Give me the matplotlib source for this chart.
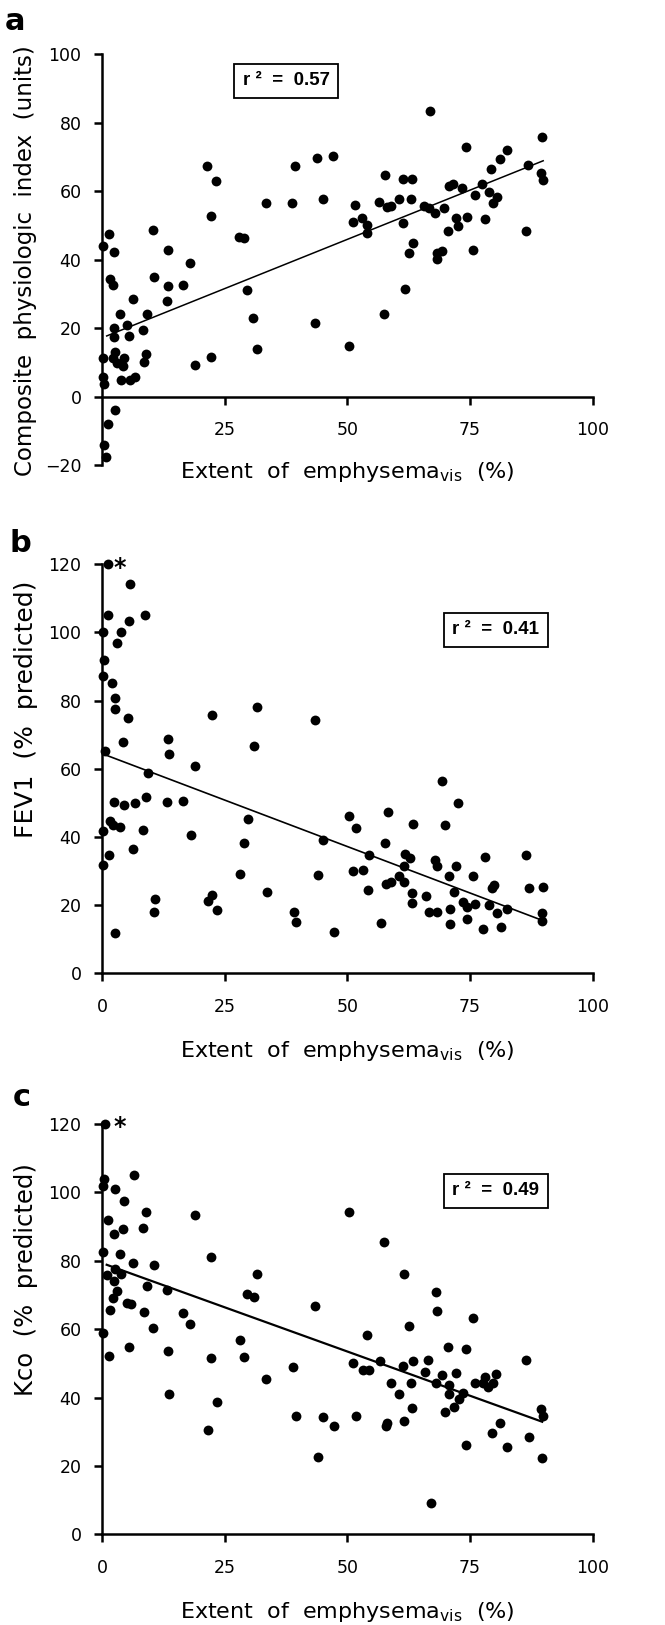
import numpy as np
import matplotlib
matplotlib.use('Agg')
import matplotlib.pyplot as plt

# data (x = extent of emphysema, %)
a_x = [0.1, 1.4, 2.4, 1.6, 2.2, 6.2, 3.6, 2.4, 2.4, 5.1,
       5.5, 8.4, 9.2, 0.1, 2.1, 2.6, 3.1, 4.5, 4.3, 0.1,
       0.4, 3.9, 5.6, 6.7, 9.0, 8.5, 2.6, 1.2, 0.3, 0.8,
       10.4, 10.5, 13.5, 13.3, 13.1, 16.5, 17.9, 18.9, 21.4, 23.2,
       22.1, 22.2, 27.9, 28.8, 29.6, 30.8, 31.6, 33.3, 38.7, 39.2,
       43.8, 47.1, 45.1, 43.3, 50.4, 51.5, 51.2, 52.9, 54.0, 54.0,
       56.5, 57.6, 58.1, 58.8, 60.4, 57.4, 61.4, 63.1, 63.0, 61.4,
       63.3, 62.5, 61.7, 66.8, 65.7, 66.6, 67.9, 69.7, 68.2, 68.2,
       69.3, 70.4, 70.6, 71.6, 72.1, 72.6, 73.4, 74.2, 74.3, 75.5,
       75.9, 77.4, 78.0, 78.8, 79.3, 79.7, 80.4, 81.1, 82.5, 86.3,
       86.9, 89.6, 89.5, 89.9]
a_y = [44.1, 47.4, 42.1, 34.5, 32.6, 28.5, 24.1, 20.0, 17.5, 20.9,
       17.7, 19.6, 24.0, 11.4, 11.2, 12.9, 9.7, 11.2, 9.0, 5.8,
       3.7, 4.9, 4.9, 5.8, 12.5, 10.1, -3.9, -8.0, -14.0, -17.5,
       48.8, 34.9, 42.8, 32.4, 28.0, 32.6, 38.9, 9.3, 67.5, 63.1,
       52.8, 11.5, 46.6, 46.2, 31.0, 22.9, 13.8, 56.6, 56.6, 67.5,
       69.6, 70.4, 57.6, 21.6, 14.8, 56.0, 50.9, 52.1, 50.1, 47.9,
       56.8, 64.8, 55.3, 55.8, 57.7, 24.1, 63.5, 63.5, 57.6, 50.8,
       44.9, 42.0, 31.5, 83.4, 55.8, 55.2, 53.7, 55.2, 42.0, 40.1,
       42.6, 48.4, 61.5, 62.1, 52.1, 49.9, 60.8, 72.8, 52.6, 42.9,
       58.8, 62.1, 51.9, 59.7, 66.5, 56.5, 58.3, 69.3, 72.1, 48.5,
       67.6, 75.7, 65.2, 63.2]

b_x = [1.2, 5.6, 1.2, 8.7, 0.2, 5.4, 3.9, 3.1, 0.3, 0.1,
       2.0, 2.6, 2.6, 5.2, 4.3, 13.3, 13.6, 0.6, 9.3, 19.0,
       22.3, 31.6, 30.9, 43.3, 2.4, 4.5, 6.6, 9.0, 13.2, 16.5,
       1.6, 2.2, 3.7, 0.1, 8.4, 1.4, 6.3, 0.1, 18.0, 10.7,
       10.6, 2.5, 29.8, 28.8, 28.1, 22.3, 21.6, 23.3, 33.5, 39.0,
       39.4, 44.0, 45.1, 47.3, 50.4, 51.7, 51.2, 53.1, 54.3, 54.2,
       56.8, 57.6, 58.3, 57.9, 58.9, 60.4, 61.7, 62.7, 61.6, 61.6,
       63.1, 63.1, 63.4, 66.0, 66.7, 68.2, 67.9, 68.3, 69.3, 69.8,
       70.6, 70.8, 70.9, 71.8, 72.1, 72.6, 73.6, 74.3, 74.3, 75.5,
       76.0, 78.0, 77.7, 78.9, 79.4, 79.8, 80.4, 81.3, 82.5, 86.4,
       87.1, 89.6, 89.7, 89.9]
b_y = [120, 114.2, 105.2, 105.2, 100.2, 103.3, 100.0, 97.0, 91.9, 87.2,
       85.2, 80.7, 77.6, 75.0, 67.9, 68.6, 64.4, 65.2, 58.7, 60.9,
       75.8, 78.1, 66.6, 74.3, 50.2, 49.3, 50.0, 51.8, 50.3, 50.5,
       44.7, 43.5, 42.8, 41.7, 42.1, 34.8, 36.4, 31.8, 40.5, 21.7,
       18.1, 11.9, 45.1, 38.3, 29.2, 23.0, 21.1, 18.6, 23.7, 18.0,
       14.9, 28.9, 39.1, 12.2, 46.2, 42.7, 29.9, 30.4, 34.7, 24.4,
       14.6, 38.2, 47.4, 26.1, 26.9, 28.6, 34.9, 33.7, 31.5, 26.9,
       23.4, 20.6, 43.7, 22.6, 17.9, 17.9, 33.3, 31.5, 56.5, 43.6,
       28.4, 18.9, 14.3, 23.7, 31.5, 49.9, 20.8, 19.3, 16.0, 28.4,
       20.3, 34.2, 13.1, 20.1, 25.0, 25.9, 17.7, 13.5, 18.7, 34.7,
       25.0, 17.6, 15.4, 25.4]

c_x = [0.5, 0.3, 0.1, 6.5, 2.5, 4.4, 9.0, 1.2, 4.2, 8.4,
       2.4, 19.0, 0.2, 3.6, 6.2, 10.6, 22.2, 1.0, 2.6, 2.4,
       3.9, 3.1, 2.2, 1.6, 5.0, 5.8, 9.2, 13.1, 8.5, 10.4,
       0.1, 1.4, 5.4, 13.3, 13.6, 16.5, 17.9, 31.6, 29.6, 30.9,
       22.2, 23.3, 21.5, 28.1, 28.8, 33.4, 38.8, 39.4, 43.3, 43.9,
       45.1, 47.2, 50.4, 51.2, 51.7, 53.1, 54.3, 54.0, 56.6, 57.4,
       57.9, 58.0, 58.8, 60.4, 61.4, 61.6, 62.5, 63.0, 63.3, 63.1,
       61.5, 65.9, 66.5, 67.0, 68.0, 68.0, 68.2, 69.3, 70.4, 70.7,
       70.7, 69.8, 71.7, 72.1, 72.7, 73.5, 74.2, 74.1, 75.5, 75.9,
       77.6, 78.0, 78.7, 79.6, 80.3, 79.4, 81.1, 82.5, 86.3, 87.0,
       89.5, 89.9, 89.7]
c_y = [120, 104.0, 102.0, 105.0, 101.1, 97.5, 94.4, 91.9, 89.4, 89.5,
       87.8, 93.5, 82.6, 82.1, 79.3, 78.9, 81.0, 75.8, 77.6, 74.2,
       76.2, 71.2, 69.2, 65.6, 67.6, 67.4, 72.7, 71.6, 64.9, 60.2,
       59.0, 52.1, 54.8, 53.7, 40.9, 64.6, 61.4, 76.2, 70.4, 69.4,
       51.5, 38.6, 30.6, 56.8, 51.9, 45.3, 48.8, 34.6, 66.8, 22.6,
       34.4, 31.8, 94.3, 50.1, 34.6, 48.1, 48.1, 58.2, 50.7, 85.4,
       31.8, 32.7, 44.3, 40.9, 49.3, 76.2, 61.0, 44.3, 50.7, 36.8,
       33.0, 47.5, 50.9, 9.1, 44.2, 71.0, 65.4, 46.6, 54.8, 43.7,
       41.0, 35.7, 37.1, 47.3, 39.6, 41.2, 54.1, 26.0, 63.2, 44.2,
       44.2, 46.1, 43.2, 44.2, 46.8, 29.7, 32.7, 25.5, 51.0, 28.4,
       36.6, 34.6, 22.4]

# regression lines as drawn: slope, intercept, x start, x end
fit_a = [0.575, 17.2, 0.9, 89.9]
fit_b = [-0.545, 64.4, 0.6, 89.7]
fit_c = [-0.517, 79.3, 0.9, 89.7]

r2_labels = ['0.57', '0.41', '0.49']
ylabels = ['Composite  physiologic  index  (units)', 'FEV1  (%  predicted)', 'Kco  (%  predicted)']
xlabel = 'Extent  of  emphysema$_{\\mathregular{vis}}$  (%)'

plt.rcParams['font.family'] = 'DejaVu Sans'

fig = plt.figure(figsize=(6.65, 16.25), dpi=100)

def panel(rect, xs, ys, fit, ylim, yticks, xticks, r2, r2_pos, star=False, lw_fit=1.2):
    ax = fig.add_axes(rect)
    ax.scatter(xs, ys, s=50, color='black', linewidths=0, clip_on=False, zorder=3)
    m, b, x0, x1 = fit
    xx = np.array([x0, x1])
    ax.plot(xx, m * xx + b, color='black', lw=lw_fit, zorder=2)
    ax.set_xlim(0, 100)
    ax.set_ylim(*ylim)
    ax.set_xticks(xticks)
    ax.set_yticks(yticks)
    for s in ['top', 'right']:
        ax.spines[s].set_visible(False)
    for s in ['left', 'bottom']:
        ax.spines[s].set_linewidth(1.8)
    ax.tick_params(direction='out', length=6, width=1.8, labelsize=12.5, pad=9)
    ax.tick_params(axis='x', pad=11.5)
    ax.text(r2_pos[0], r2_pos[1], 'r ²  =  ' + r2, ha='center', va='center',
            fontsize=13.5, fontweight='bold', family='Liberation Sans',
            bbox=dict(boxstyle='square,pad=0.45', fc='white', ec='black', lw=1.3))
    if star:
        ax.text(3.6, 119, '*', ha='center', va='center', fontsize=17, fontweight='bold')
    return ax

ax1 = panel([0.1538, 0.7138, 0.7375, 0.2528], a_x, a_y, fit_a, (-20, 100),
            [-20, 0, 20, 40, 60, 80, 100], [25, 50, 75, 100], r2_labels[0], (37.5, 92.3), lw_fit=1.1)
ax1.spines['bottom'].set_position(('data', 0))

ax2 = panel([0.1538, 0.4011, 0.7375, 0.2517], b_x, b_y, fit_b, (0, 120),
            [0, 20, 40, 60, 80, 100, 120], [0, 25, 50, 75, 100], r2_labels[1], (80.2, 100.7),
            star=True, lw_fit=1.2)

ax3 = panel([0.1538, 0.0558, 0.7375, 0.2525], c_x, c_y, fit_c, (0, 120),
            [0, 20, 40, 60, 80, 100, 120], [0, 25, 50, 75, 100], r2_labels[2], (80.2, 100.5),
            star=True, lw_fit=1.6)

# axis titles and panel letters
for yp, t, fs in zip([261, 709, 1279.5], ylabels, [16.5, 18, 17.5]):
    fig.text(0.039, 1 - yp / 1625, t, rotation=90, ha='center', va='center', fontsize=fs)
for yp in [478, 1057, 1618]:
    fig.text(0.5226, 1 - yp / 1625, xlabel, ha='center', va='baseline', fontsize=16)
for (x, y), t in zip([(0.0226, 0.9865), (0.030, 0.6658), (0.033, 0.3249)], 'abc'):
    fig.text(x, y, t, ha='center', va='center', fontsize=22, fontweight='bold')

fig.savefig('out.png', dpi=100)
